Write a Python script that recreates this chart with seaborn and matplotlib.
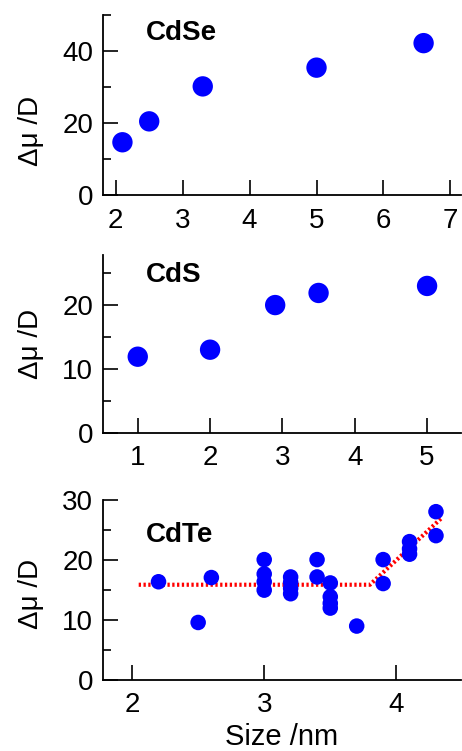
import numpy as np
import pandas as pd
import seaborn as sns
import matplotlib.pyplot as plt
from matplotlib.ticker import MultipleLocator

# CdSe: size (nm) vs dipole change (D)
cdse_size = [2.1, 2.5, 3.3, 5.0, 6.6]
cdse_dmu = [14.7, 20.5, 30.2, 35.4, 42.2]

# CdS
cds_size = [1.0, 2.0, 2.9, 3.5, 5.0]
cds_dmu = [11.9, 13.0, 20.0, 21.9, 23.0]

# CdTe
cdte_size = [2.2, 2.5, 2.6,
             3.0, 3.0, 3.0, 3.0,
             3.2, 3.2, 3.2, 3.2,
             3.4, 3.4,
             3.5, 3.5, 3.5, 3.5,
             3.7, 3.9, 3.9,
             4.1, 4.1, 4.1,
             4.3, 4.3]
cdte_dmu = [16.4, 9.6, 17.1,
            20.1, 17.7, 16.4, 15.0,
            17.2, 16.3, 15.3, 14.4,
            20.1, 17.2,
            16.2, 13.9, 12.8, 12.0,
            9.0, 20.1, 16.1,
            23.1, 21.9, 21.0,
            28.1, 24.1]

# dotted guide line for CdTe
fit_size = [2.05, 3.8, 4.35]
fit_dmu = [15.9, 15.9, 27.2]

sns.set_style("ticks")
plt.rcParams['font.family'] = ['Liberation Sans', 'DejaVu Sans']
plt.rcParams.update({"text.color": "black", "axes.labelcolor": "black",
                     "xtick.color": "black", "ytick.color": "black",
                     "axes.edgecolor": "black"})

fig = plt.figure(figsize=(4.62, 7.51), dpi=100)

panels = [
    dict(pos=[0.223, 0.740, 0.775, 0.240], x=cdse_size, y=cdse_dmu, name="CdSe",
         xlim=(1.81, 7.16), ylim=(0, 50), xmaj=1, ymaj=20, ymin=10, s=215,
         name_y=0.975, ylab_y=0.356),
    dict(pos=[0.223, 0.424, 0.775, 0.236], x=cds_size, y=cds_dmu, name="CdS",
         xlim=(0.52, 5.47), ylim=(0, 27.8), xmaj=1, ymaj=10, ymin=5, s=215,
         name_y=0.965, ylab_y=0.5),
    dict(pos=[0.223, 0.0946, 0.775, 0.240], x=cdte_size, y=cdte_dmu, name="CdTe",
         xlim=(1.78, 4.49), ylim=(0, 30.1), xmaj=1, ymaj=10, ymin=5, s=125,
         name_y=0.875, ylab_y=0.48),
]

for i, p in enumerate(panels):
    ax = fig.add_axes(p["pos"])
    df = pd.DataFrame({"size": p["x"], "dmu": p["y"]})
    if i == 2:
        sns.lineplot(x=fit_size, y=fit_dmu, ax=ax, color="#ff0000", lw=3.0,
                     linestyle=(0, (0.55, 0.6)), sort=False, zorder=3)
    sns.scatterplot(data=df, x="size", y="dmu", ax=ax, color="#0000ff",
                    s=p["s"], edgecolor="none", linewidth=0, zorder=4)
    ax.set_xlim(*p["xlim"])
    ax.set_ylim(*p["ylim"])
    ax.xaxis.set_major_locator(MultipleLocator(p["xmaj"]))
    ax.yaxis.set_major_locator(MultipleLocator(p["ymaj"]))
    ax.yaxis.set_minor_locator(MultipleLocator(p["ymin"]))
    sns.despine(ax=ax)
    for sp in ("left", "bottom"):
        ax.spines[sp].set_linewidth(1.3)
    ax.tick_params(axis="both", which="major", direction="in", length=11,
                   width=1.2, labelsize=20)
    ax.tick_params(axis="x", which="major", pad=9)
    ax.tick_params(axis="y", which="major", pad=7)
    ax.tick_params(axis="y", which="minor", direction="in", length=6,
                   width=1.2)
    ax.tick_params(axis="x", which="minor", length=0)
    ax.set_ylabel("Δμ /D", fontsize=20)
    ax.yaxis.set_label_coords(-0.165, p["ylab_y"])
    ax.set_xlabel("Size /nm" if i == 2 else "", fontsize=21, labelpad=3)
    ax.text(0.12, p["name_y"], p["name"], transform=ax.transAxes,
            fontsize=20, fontweight="bold", va="top", ha="left")

fig.savefig("out.png", dpi=100)
